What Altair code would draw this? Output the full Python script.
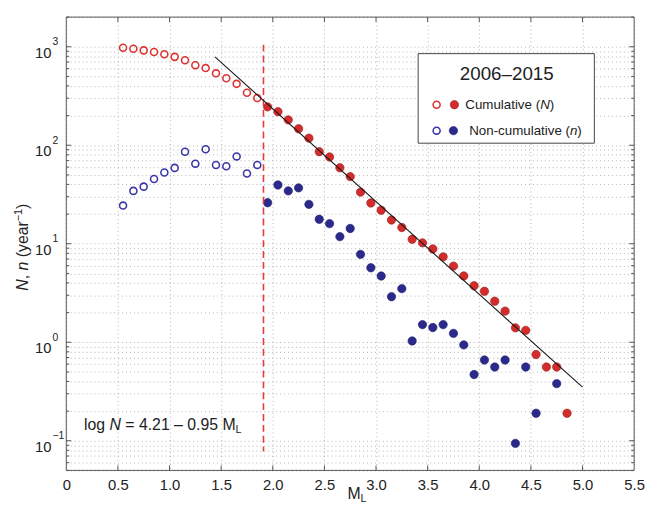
import altair as alt
import pandas as pd

FONT = "Liberation Sans"

# ---- data ----
M_open = [0.55, 0.65, 0.75, 0.85, 0.95, 1.05, 1.15, 1.25, 1.35, 1.45, 1.55, 1.65, 1.75, 1.85]
N_open = [977, 955, 918, 885, 838, 789, 730, 650, 607, 537, 479, 420, 341, 302]
n_open = [24.4, 34.4, 38.0, 45.4, 52.9, 58.9, 85.8, 65.0, 91.2, 63.0, 61.2, 77.0, 51.7, 63.0]

M_N_fill = [1.95, 2.05, 2.15, 2.25, 2.35, 2.45, 2.55, 2.65, 2.75, 2.85,
            2.95, 3.05, 3.15, 3.25, 3.35, 3.45, 3.55, 3.65, 3.75, 3.85,
            3.95, 4.05, 4.15, 4.25, 4.35, 4.45, 4.55, 4.65, 4.75, 4.85]
N_fill = [245, 219, 181, 147, 118, 86, 76, 59, 48, 33.4,
          25.9, 21.9, 17.4, 14.6, 11.1, 10.2, 8.85, 7.36, 5.93, 4.71,
          3.74, 3.29, 2.61, 2.07, 1.40, 1.32, 0.75, 0.56, 0.56, 0.19]

M_n_fill = [1.95, 2.05, 2.15, 2.25, 2.35, 2.45, 2.55, 2.65, 2.75, 2.85,
            2.95, 3.05, 3.15, 3.25, 3.35, 3.45, 3.55, 3.65, 3.75, 3.85,
            3.95, 4.05, 4.15, 4.25, 4.35, 4.45, 4.55, 4.75]
n_fill = [26.1, 39.5, 34.4, 36.9, 25.1, 17.7, 16.0, 11.8, 14.3, 7.8,
          5.7, 4.7, 2.9, 3.5, 1.03, 1.51, 1.41, 1.51, 1.23, 0.94,
          0.47, 0.66, 0.56, 0.66, 0.094, 0.56, 0.19, 0.38]

fit_M = [1.44, 5.0]
fit_N = [790, 0.35]

Mc = [1.91]
Mc_top = [1050]
Mc_bottom = [0.078]

x_ticks = [0, 0.5, 1.0, 1.5, 2.0, 2.5, 3.0, 3.5, 4.0, 4.5, 5.0, 5.5]
y_decades = [0.1, 1, 10, 100, 1000]
y_exponents = ["\u22121", "0", "1", "2", "3"]
y_minor = [0.05, 0.06, 0.07, 0.08, 0.09,
           0.2, 0.3, 0.4, 0.5, 0.6, 0.7, 0.8, 0.9,
           2, 3, 4, 5, 6, 7, 8, 9,
           20, 30, 40, 50, 60, 70, 80, 90,
           200, 300, 400, 500, 600, 700, 800, 900, 2000]

RED = "#d42b2b"
RED_OPEN = "#dd3333"
BLUE = "#2b2a8c"
BLUE_OPEN = "#3a38a6"

W, H = 575, 459

xs = alt.Scale(domain=[0, 5.5], nice=False, zero=False)
ys = alt.Scale(type="log", domain=[0.05, 2000], nice=False)

grid_kw = dict(grid=True, gridColor="#b4b4b4", gridDash=[1, 3], gridWidth=1,
               ticks=False, tickSize=0, domain=False, title=None)
x_axis = alt.Axis(values=x_ticks, labelFontSize=15, labelFont=FONT, labelColor="#222",
                  labelPadding=7, labelFlush=False,
                  labelExpr="datum.value == 0 ? '0' : format(datum.value, '.1f')", **grid_kw)
y_axis = alt.Axis(values=sorted(y_decades + y_minor), labels=False, **grid_kw)

open_df = pd.DataFrame({"M": M_open, "N": N_open, "n": n_open})
Nfill_df = pd.DataFrame({"M": M_N_fill, "N": N_fill})
nfill_df = pd.DataFrame({"M": M_n_fill, "n": n_fill})
fit_df = pd.DataFrame({"M": fit_M, "N": fit_N})
mc_df = pd.DataFrame({"M": Mc, "top": Mc_top, "bottom": Mc_bottom})
xt_df = pd.DataFrame({"M": x_ticks[1:-1]})
ymaj_df = pd.DataFrame({"v": y_decades})
ymin_df = pd.DataFrame({"v": y_minor})
ylab_df = pd.DataFrame({"v": y_decades, "e": y_exponents})


def X(field="M"):
    return alt.X(f"{field}:Q", scale=xs, axis=x_axis, title=None)


def Y(field):
    return alt.Y(f"{field}:Q", scale=ys, axis=y_axis, title=None)


pt_open = dict(shape="circle", filled=False, size=50, strokeWidth=1.6, opacity=1)
pt_fill = dict(shape="circle", filled=True, size=72, opacity=1, strokeWidth=0.6)

blue_open = alt.Chart(open_df).mark_point(color=BLUE_OPEN, **pt_open).encode(x=X(), y=Y("n"))
red_open = alt.Chart(open_df).mark_point(color=RED_OPEN, **pt_open).encode(x=X(), y=Y("N"))
blue_fill = alt.Chart(nfill_df).mark_point(fill=BLUE, stroke="#1e1d6a", **pt_fill).encode(x=X(), y=Y("n"))
red_fill = alt.Chart(Nfill_df).mark_point(fill=RED, stroke="#9a1c1c", **pt_fill).encode(x=X(), y=Y("N"))
fit_line = alt.Chart(fit_df).mark_line(color="#1a1a1a", strokeWidth=1.1).encode(x=X(), y=Y("N"))
mc_line = alt.Chart(mc_df).mark_rule(color="#e23c3c", strokeWidth=1.6, strokeDash=[7, 4]).encode(
    x=X(), y=Y("top"), y2="bottom:Q")

# inward ticks
tick_color = "#555555"
xt_bottom = alt.Chart(xt_df).mark_rule(color=tick_color).encode(x=X(), y=alt.value(H), y2=alt.value(H - 5))
xt_top = alt.Chart(xt_df).mark_rule(color=tick_color).encode(x=X(), y=alt.value(0), y2=alt.value(5))
ymaj_l = alt.Chart(ymaj_df).mark_rule(color=tick_color).encode(y=Y("v"), x=alt.value(0), x2=alt.value(5))
ymaj_r = alt.Chart(ymaj_df).mark_rule(color=tick_color).encode(y=Y("v"), x=alt.value(W), x2=alt.value(W - 5))
ymin_l = alt.Chart(ymin_df).mark_rule(color=tick_color).encode(y=Y("v"), x=alt.value(0), x2=alt.value(3))
ymin_r = alt.Chart(ymin_df).mark_rule(color=tick_color).encode(y=Y("v"), x=alt.value(W), x2=alt.value(W - 3))

# y tick labels 10^k
ylab_base = alt.Chart(ylab_df).mark_text(font=FONT, fontSize=15, color="#222", align="right",
                                         baseline="alphabetic", dy=11).encode(
    y=Y("v"), x=alt.value(-15), text=alt.value("10"))
ylab_exp = alt.Chart(ylab_df).mark_text(font=FONT, fontSize=10.5, color="#222", align="left",
                                        baseline="alphabetic", dy=-1.5).encode(
    y=Y("v"), x=alt.value(-14), text="e:N")


def txt(text, x, y, size, **kw):
    opts = dict(font=FONT, fontSize=size, color="#222", align="left", baseline="alphabetic")
    opts.update(kw)
    return alt.Chart(pd.DataFrame({"t": [text]})).mark_text(**opts).encode(
        x=alt.value(x), y=alt.value(y), text="t:N")


frame_df = pd.DataFrame({"k": [0]})
frame = alt.Chart(frame_df).mark_rect(filled=False, stroke="#555555", strokeWidth=1).encode(
    x=alt.value(0), x2=alt.value(W), y=alt.value(0), y2=alt.value(H))
legend_box = alt.Chart(frame_df).mark_rect(fill="white", stroke="#444444", strokeWidth=1).encode(
    x=alt.value(356.3), x2=alt.value(534.7), y=alt.value(37), y2=alt.value(127.7))
leg_sym = [
    alt.Chart(frame_df).mark_point(color=RED_OPEN, **pt_open).encode(x=alt.value(375), y=alt.value(88.7)),
    alt.Chart(frame_df).mark_point(fill=RED, stroke="#9a1c1c", **pt_fill).encode(x=alt.value(393), y=alt.value(88.7)),
    alt.Chart(frame_df).mark_point(color=BLUE_OPEN, **pt_open).encode(x=alt.value(375), y=alt.value(115)),
    alt.Chart(frame_df).mark_point(fill=BLUE, stroke="#1e1d6a", **pt_fill).encode(x=alt.value(392), y=alt.value(115)),
]
texts = [
    txt("2006\u20132015", 446, 63.5, 19, align="center"),
    txt("Cumulative (", 404, 93.5, 13.5),
    txt("N", 479.8, 93.5, 13.5, fontStyle="italic"),
    txt(")", 489.5, 93.5, 13.5),
    txt("Non-cumulative (", 408, 119.8, 13.5),
    txt("n", 510, 119.8, 13.5, fontStyle="italic"),
    txt(")", 517.5, 119.8, 13.5),
    # equation
    txt("log", 18, 417.7, 16),
    txt("N", 43.8, 417.7, 16, fontStyle="italic"),
    txt("= 4.21 \u2013 0.95 M", 59.8, 417.7, 16),
    txt("L", 171.4, 421, 11),
    # x title
    txt("M", 284.7, 488, 16),
    txt("L", 298, 491, 11),
    # y title (rotated)
    txt("N", -39, 277, 16, angle=270, fontStyle="italic"),
    txt(",", -39, 265.45, 16, angle=270),
    txt("n", -39, 256.55, 16, angle=270, fontStyle="italic"),
    txt("(year", -39, 243.2, 16, angle=270),
    txt("\u22121", -45, 206.8, 11, angle=270),
    txt(")", -39, 194.3, 16, angle=270),
]

chart = alt.layer(
    blue_open, blue_fill, red_open, red_fill, mc_line, fit_line,
    xt_bottom, xt_top, ymaj_l, ymaj_r, ymin_l, ymin_r,
    ylab_base, ylab_exp, frame, legend_box, *leg_sym, *texts,
).properties(
    width=W, height=H,
    padding={"left": 59, "top": 6, "right": 12, "bottom": 45},
    autosize=alt.AutoSizeParams(type="none"),
    background="white",
).configure_view(strokeWidth=0)

chart.save("out.html", embed_options={"renderer": "svg", "actions": False})
